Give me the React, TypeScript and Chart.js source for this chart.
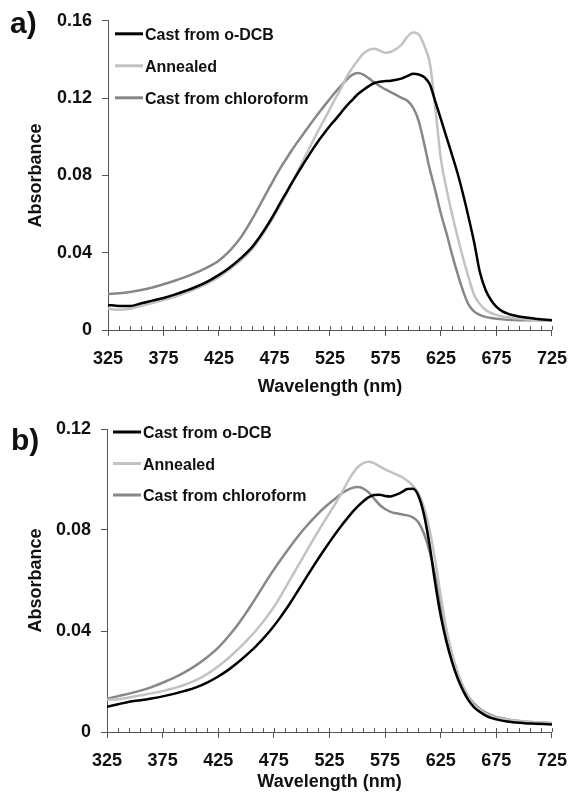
import React, { useEffect, useRef } from "react";
import { Chart, registerables } from "chart.js";

Chart.register(...registerables);

// ---------- data ----------
const wavelengths = [
  325, 335, 345, 355, 365, 375, 385, 395, 405, 415, 425, 435, 445,
  455, 460, 465, 470, 475, 480, 485, 490, 495, 500,
  505, 510, 515, 520, 525, 530, 535, 540, 545, 550,
  555, 560, 565, 570, 575, 580, 585, 590, 595, 600,
  605, 610, 615, 620, 625, 630, 635, 640, 645, 650,
  655, 660, 665, 670, 675, 680, 685, 690, 695, 700,
  710, 725,
];

const seriesLabels = ["Cast from o-DCB", "Annealed", "Cast from chloroform"];
const seriesColors = ["#000000", "#c2c2c2", "#878787"];

// Panel a)
const aDcb = [
  0.0130, 0.0124, 0.0124, 0.0138, 0.0152, 0.0166, 0.0183, 0.0203, 0.0225, 0.0252, 0.0285, 0.0325, 0.0373,
  0.0430, 0.0468, 0.0510, 0.0555, 0.0603, 0.0655, 0.0705, 0.0755, 0.0803, 0.0850,
  0.0895, 0.0940, 0.0982, 0.1020, 0.1057, 0.1090, 0.1125, 0.1160, 0.1190, 0.1220,
  0.1242, 0.1262, 0.1278, 0.1285, 0.1288, 0.1290, 0.1295, 0.1302, 0.1315, 0.1326,
  0.1322, 0.1308, 0.1270, 0.1180, 0.1090, 0.0997, 0.0905, 0.0810, 0.0700, 0.0580,
  0.0450, 0.0300, 0.0210, 0.0155, 0.0120, 0.0098, 0.0085, 0.0076, 0.0070, 0.0066,
  0.0058, 0.0050,
];
const aAnnealed = [
  0.0110, 0.0105, 0.0110, 0.0125, 0.0140, 0.0155, 0.0172, 0.0192, 0.0215, 0.0242, 0.0275, 0.0315, 0.0362,
  0.0420, 0.0458, 0.0500, 0.0545, 0.0592, 0.0643, 0.0697, 0.0752, 0.0810, 0.0868,
  0.0925, 0.0982, 0.1038, 0.1090, 0.1145, 0.1200, 0.1250, 0.1310, 0.1355, 0.1395,
  0.1430, 0.1450, 0.1455, 0.1445, 0.1435, 0.1440, 0.1455, 0.1480, 0.1520, 0.1540,
  0.1530, 0.1470, 0.1380, 0.1140, 0.0880, 0.0730, 0.0600, 0.0480, 0.0370, 0.0270,
  0.0180, 0.0135, 0.0105, 0.0088, 0.0078, 0.0070, 0.0066, 0.0062, 0.0059, 0.0056,
  0.0053, 0.0050,
];
const aChloroform = [
  0.0186, 0.0190, 0.0197, 0.0207, 0.0220, 0.0237, 0.0255, 0.0275, 0.0298, 0.0325, 0.0360, 0.0412, 0.0482,
  0.0575, 0.0627, 0.0680, 0.0733, 0.0785, 0.0835, 0.0880, 0.0925, 0.0967, 0.1007,
  0.1047, 0.1086, 0.1124, 0.1161, 0.1197, 0.1232, 0.1265, 0.1295, 0.1320, 0.1330,
  0.1322, 0.1302, 0.1281, 0.1261, 0.1245, 0.1230, 0.1215, 0.1200, 0.1185, 0.1150,
  0.1080, 0.0960, 0.0830, 0.0720, 0.0600, 0.0500, 0.0390, 0.0290, 0.0200, 0.0130,
  0.0095, 0.0078, 0.0068, 0.0062, 0.0058, 0.0055, 0.0053, 0.0052, 0.0051, 0.0050,
  0.0050, 0.0050,
];

// Panel b)
const bDcb = [
  0.0100, 0.0110, 0.0120, 0.0126, 0.0133, 0.0141, 0.0151, 0.0163, 0.0177, 0.0196, 0.0220, 0.0249, 0.0284,
  0.0323, 0.0345, 0.0368, 0.0393, 0.0420, 0.0449, 0.0480, 0.0513, 0.0548, 0.0583,
  0.0618, 0.0653, 0.0687, 0.0720, 0.0752, 0.0783, 0.0813, 0.0841, 0.0868, 0.0892,
  0.0912, 0.0929, 0.0939, 0.0940, 0.0935, 0.0933, 0.0940, 0.0950, 0.0962, 0.0963,
  0.0935, 0.0860, 0.0740, 0.0590, 0.0460, 0.0360, 0.0280, 0.0215, 0.0165, 0.0125,
  0.0098, 0.0080, 0.0066, 0.0056, 0.0050, 0.0045, 0.0042, 0.0039, 0.0037, 0.0035,
  0.0033, 0.0030,
];
const bAnnealed = [
  0.0128, 0.0130, 0.0137, 0.0145, 0.0153, 0.0162, 0.0173, 0.0187, 0.0205, 0.0229, 0.0260, 0.0296, 0.0337,
  0.0383, 0.0408, 0.0435, 0.0464, 0.0495, 0.0530, 0.0568, 0.0607, 0.0645, 0.0683,
  0.0721, 0.0759, 0.0796, 0.0832, 0.0867, 0.0902, 0.0940, 0.0980, 0.1018, 0.1047,
  0.1064, 0.1070, 0.1065, 0.1052, 0.1040, 0.1030, 0.1020, 0.1010, 0.0995, 0.0975,
  0.0945, 0.0890, 0.0800, 0.0680, 0.0540, 0.0410, 0.0315, 0.0240, 0.0180, 0.0138,
  0.0108, 0.0088, 0.0074, 0.0064, 0.0058, 0.0053, 0.0049, 0.0046, 0.0044, 0.0042,
  0.0039, 0.0036,
];
const bChloroform = [
  0.0132, 0.0142, 0.0152, 0.0164, 0.0178, 0.0195, 0.0214, 0.0237, 0.0264, 0.0296, 0.0334, 0.0383, 0.0440,
  0.0505, 0.0540, 0.0575, 0.0610, 0.0643, 0.0675, 0.0706, 0.0736, 0.0765, 0.0793,
  0.0819, 0.0843, 0.0866, 0.0887, 0.0906, 0.0924, 0.0942, 0.0956, 0.0966, 0.0970,
  0.0965, 0.0950, 0.0925, 0.0900, 0.0883, 0.0872, 0.0866, 0.0862, 0.0858, 0.0850,
  0.0830, 0.0785, 0.0715, 0.0620, 0.0500, 0.0395, 0.0305, 0.0235, 0.0180, 0.0140,
  0.0112, 0.0092, 0.0078, 0.0068, 0.0060, 0.0055, 0.0050, 0.0047, 0.0044, 0.0042,
  0.0039, 0.0036,
];

const xTickValues = [325, 375, 425, 475, 525, 575, 625, 675, 725];
const xMinorStep = 10;
const yTicksA = [0, 0.04, 0.08, 0.12, 0.16];
const yTicksB = [0, 0.04, 0.08, 0.12];

// ---------- styling ----------
const FONT = '"Liberation Sans", Arial, Helvetica, sans-serif';
const AXIS_COLOR = "#555555";
const TEXT_COLOR = "#111111";

const minorTicksPlugin = {
  id: "minorTicks",
  afterDraw(chart: any, _args: any, opts: any) {
    const xs = chart.scales.x;
    const { ctx, chartArea } = chart;
    ctx.save();
    ctx.strokeStyle = opts.color;
    ctx.lineWidth = 1;
    for (let v = xs.min; v <= xs.max + 1e-6; v += opts.step) {
      const px = Math.round(xs.getPixelForValue(v)) + 0.5;
      ctx.beginPath();
      ctx.moveTo(px, chartArea.bottom);
      ctx.lineTo(px, chartArea.bottom - opts.length);
      ctx.stroke();
    }
    ctx.restore();
  },
};

const inlineLegendPlugin = {
  id: "inlineLegend",
  afterDraw(chart: any, _args: any, opts: any) {
    const { ctx, chartArea } = chart;
    ctx.save();
    ctx.font = `bold ${opts.fontSize}px ${FONT}`;
    ctx.textBaseline = "middle";
    ctx.textAlign = "left";
    chart.data.datasets.forEach((ds: any, i: number) => {
      const y = chartArea.top + opts.offsetY + i * opts.rowGap;
      const x0 = chartArea.left + opts.offsetX;
      ctx.strokeStyle = ds.borderColor;
      ctx.lineWidth = 3;
      ctx.beginPath();
      ctx.moveTo(x0, y);
      ctx.lineTo(x0 + opts.lineLen, y);
      ctx.stroke();
      ctx.fillStyle = TEXT_COLOR;
      ctx.fillText(ds.label, x0 + opts.lineLen + opts.gap, y + opts.textDy);
    });
    ctx.restore();
  },
};

const panelLabelPlugin = {
  id: "panelLabel",
  afterDraw(chart: any, _args: any, opts: any) {
    const { ctx } = chart;
    ctx.save();
    ctx.font = `bold ${opts.fontSize}px ${FONT}`;
    ctx.fillStyle = TEXT_COLOR;
    ctx.textBaseline = "alphabetic";
    ctx.textAlign = "left";
    ctx.fillText(opts.text, opts.x, opts.y);
    ctx.restore();
  },
};

interface PanelSpec {
  label: string;
  series: number[][];
  yTicks: number[];
  yAxisWidth: number;
  xAxisHeight: number;
  padding: { top: number; right: number };
  legend: { offsetX: number; offsetY: number; rowGap: number };
  labelPos: { x: number; y: number };
  titleBottom: number;
}

function buildConfig(p: PanelSpec): any {
  const tickFont = { family: FONT, size: 18, weight: "bold" as const };
  return {
    type: "line",
    data: {
      datasets: p.series.map((vals, i) => ({
        label: seriesLabels[i],
        data: wavelengths.map((w, j) => ({ x: w, y: vals[j] })),
        borderColor: seriesColors[i],
        backgroundColor: seriesColors[i],
        borderWidth: 2.5,
        pointRadius: 0,
        fill: false,
        cubicInterpolationMode: "monotone",
      })),
    },
    options: {
      responsive: false,
      animation: false,
      layout: { padding: { left: 0, top: p.padding.top, right: p.padding.right, bottom: 0 } },
      plugins: {
        legend: { display: false },
        tooltip: { enabled: false },
        minorTicks: { step: xMinorStep, length: 4, color: AXIS_COLOR },
        inlineLegend: {
          fontSize: 16,
          offsetX: p.legend.offsetX,
          offsetY: p.legend.offsetY,
          rowGap: p.legend.rowGap,
          lineLen: 28,
          gap: 2,
          textDy: 2,
        },
        panelLabel: { text: p.label, fontSize: 30, x: p.labelPos.x, y: p.labelPos.y },
      },
      scales: {
        x: {
          type: "linear",
          min: xTickValues[0],
          max: xTickValues[xTickValues.length - 1],
          afterBuildTicks: (s: any) => {
            s.ticks = xTickValues.map((v) => ({ value: v }));
          },
          afterFit: (s: any) => {
            s.height = p.xAxisHeight;
          },
          ticks: { font: tickFont, color: TEXT_COLOR, padding: 12, maxRotation: 0, autoSkip: false },
          grid: { drawOnChartArea: false, drawTicks: true, tickLength: 6, color: AXIS_COLOR },
          border: { display: true, color: AXIS_COLOR, width: 1 },
          title: {
            display: true,
            text: "Wavelength (nm)",
            font: tickFont,
            color: TEXT_COLOR,
            padding: { top: 0, bottom: p.titleBottom },
          },
        },
        y: {
          type: "linear",
          min: 0,
          max: p.yTicks[p.yTicks.length - 1],
          afterBuildTicks: (s: any) => {
            s.ticks = p.yTicks.map((v) => ({ value: v }));
          },
          afterFit: (s: any) => {
            s.width = p.yAxisWidth;
          },
          ticks: {
            font: tickFont,
            color: TEXT_COLOR,
            padding: 10,
            callback: (v: any) => (Number(v) === 0 ? "0" : Number(v).toFixed(2)),
          },
          grid: { drawOnChartArea: false, drawTicks: true, tickLength: 6, color: AXIS_COLOR },
          border: { display: true, color: AXIS_COLOR, width: 1 },
          title: {
            display: true,
            text: "Absorbance",
            font: tickFont,
            color: TEXT_COLOR,
            padding: { top: 25, bottom: 0 },
          },
        },
      },
    },
    plugins: [minorTicksPlugin, inlineLegendPlugin, panelLabelPlugin],
  };
}

const panelA: PanelSpec = {
  label: "a)",
  series: [aDcb, aAnnealed, aChloroform],
  yTicks: yTicksA,
  yAxisWidth: 108,
  xAxisHeight: 70,
  padding: { top: 20, right: 26 },
  legend: { offsetX: 7, offsetY: 13, rowGap: 32 },
  labelPos: { x: 10, y: 33 },
  titleBottom: 2,
};

const panelB: PanelSpec = {
  label: "b)",
  series: [bDcb, bAnnealed, bChloroform],
  yTicks: yTicksB,
  yAxisWidth: 107,
  xAxisHeight: 62,
  padding: { top: 29, right: 17 },
  legend: { offsetX: 6, offsetY: 3, rowGap: 31.5 },
  labelPos: { x: 11, y: 50 },
  titleBottom: 1,
};

function Panel({ spec, top, height }: { spec: PanelSpec; top: number; height: number }) {
  const ref = useRef<HTMLCanvasElement | null>(null);
  useEffect(() => {
    if (!ref.current) return;
    const chart = new Chart(ref.current, buildConfig(spec));
    return () => chart.destroy();
  }, [spec]);
  return (
    <div style={{ position: "absolute", left: 0, top, width: 579, height, background: "#fff" }}>
      <canvas ref={ref} width={579} height={height} style={{ display: "block", width: 579, height }} />
    </div>
  );
}

export default function App() {
  return (
    <div style={{ position: "absolute", left: 0, top: 0, width: 579, height: 794, background: "#fff" }}>
      <Panel spec={panelA} top={0} height={400} />
      <Panel spec={panelB} top={400} height={394} />
    </div>
  );
}
